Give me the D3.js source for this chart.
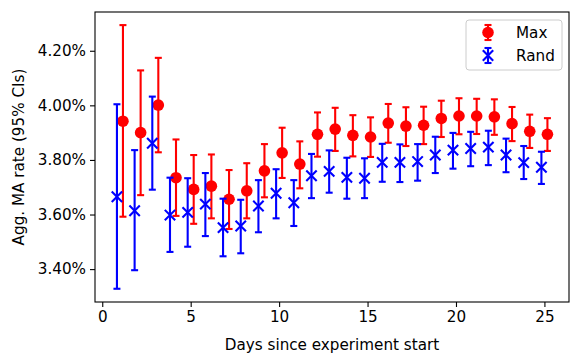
<!DOCTYPE html>
<html>
<head>
<meta charset="utf-8">
<script src="https://cdn.jsdelivr.net/npm/d3@7"></script>
<style>
  body { margin: 0; background: #fff; }
  svg { display: block; font-family: "DejaVu Sans", sans-serif; }
</style>
</head>
<body>
<svg id="chart" width="582" height="364"></svg>
<script>
// days since experiment start
let days = d3.range(1, 26);

// Max series: mean and 95% CI bounds (percent)
let maxMean = [3.942, 3.900, 4.001, 3.735, 3.692, 3.704, 3.656, 3.687, 3.760, 3.826,
               3.785, 3.894, 3.913, 3.890, 3.884, 3.935, 3.924, 3.927, 3.952, 3.961,
               3.961, 3.958, 3.933, 3.905, 3.894];
let maxLow  = [3.592, 3.671, 3.828, 3.595, 3.566, 3.586, 3.547, 3.586, 3.663, 3.734,
               3.696, 3.812, 3.833, 3.813, 3.811, 3.863, 3.851, 3.858, 3.884, 3.894,
               3.895, 3.892, 3.869, 3.844, 3.833];
let maxHigh = [4.294, 4.128, 4.174, 3.875, 3.818, 3.820, 3.763, 3.788, 3.858, 3.918,
               3.868, 3.974, 3.991, 3.964, 3.956, 4.005, 3.993, 3.995, 4.017, 4.026,
               4.024, 4.022, 3.994, 3.966, 3.953];

// Rand series
let randMean = [3.665, 3.614, 3.861, 3.598, 3.608, 3.638, 3.552, 3.558, 3.631, 3.678,
                3.643, 3.742, 3.758, 3.736, 3.733, 3.791, 3.791, 3.794, 3.818, 3.836,
                3.842, 3.847, 3.818, 3.790, 3.773];
let randLow  = [3.328, 3.396, 3.691, 3.463, 3.482, 3.521, 3.447, 3.458, 3.535, 3.586,
                3.558, 3.660, 3.680, 3.658, 3.660, 3.720, 3.719, 3.724, 3.752, 3.768,
                3.777, 3.781, 3.755, 3.730, 3.712];
let randHigh = [4.004, 3.836, 4.032, 3.735, 3.733, 3.752, 3.658, 3.654, 3.726, 3.766,
                3.726, 3.822, 3.835, 3.808, 3.806, 3.859, 3.857, 3.858, 3.885, 3.899,
                3.903, 3.907, 3.878, 3.851, 3.830];

let xTicks = [0, 5, 10, 15, 20, 25];
let yTicks = [3.4, 3.6, 3.8, 4.0, 4.2];

let fontSize = "15.2px";

let svg = d3.select("#chart");
let margin = { left: 95, right: 13, top: 12, bottom: 62 };
let width = 582 - margin.left - margin.right,
    height = 364 - margin.top - margin.bottom;

let g = svg.append("g").attr("transform", "translate(" + margin.left + "," + margin.top + ")");

let x = d3.scaleLinear().domain([-0.41, 26.39]).range([0, width]);
let y = d3.scaleLinear().domain([3.2795, 4.342]).range([height, 0]);

let shift = 0.17; // side-by-side offset of the two series

function drawSeries(mean, low, high, color, dx, marker) {
    let s = g.append("g");
    let data = days.map((d, i) => ({ day: d + dx, m: mean[i], lo: low[i], hi: high[i] }));
    let cap = 3.5;
    let grp = s.selectAll("g").data(data).enter().append("g");
    grp.append("line")
        .attr("x1", d => x(d.day)).attr("x2", d => x(d.day))
        .attr("y1", d => y(d.lo)).attr("y2", d => y(d.hi))
        .attr("stroke", color).attr("stroke-width", 2.1);
    grp.append("line")
        .attr("x1", d => x(d.day) - cap).attr("x2", d => x(d.day) + cap)
        .attr("y1", d => y(d.lo)).attr("y2", d => y(d.lo))
        .attr("stroke", color).attr("stroke-width", 2.1);
    grp.append("line")
        .attr("x1", d => x(d.day) - cap).attr("x2", d => x(d.day) + cap)
        .attr("y1", d => y(d.hi)).attr("y2", d => y(d.hi))
        .attr("stroke", color).attr("stroke-width", 2.1);
    grp.each(function (d) {
        drawMarker(d3.select(this), x(d.day), y(d.m), color, marker);
    });
}

function drawMarker(sel, cx, cy, color, marker) {
    if (marker === "o") {
        sel.append("circle").attr("cx", cx).attr("cy", cy).attr("r", 5.8).attr("fill", color);
    } else {
        let r = 5.2;
        sel.append("path")
            .attr("d", `M${cx - r},${cy - r}L${cx + r},${cy + r}M${cx - r},${cy + r}L${cx + r},${cy - r}`)
            .attr("stroke", color).attr("stroke-width", 2.1).attr("fill", "none");
    }
}

drawSeries(maxMean, maxLow, maxHigh, "#ff0000", shift, "o");
drawSeries(randMean, randLow, randHigh, "#0000ff", -shift, "x");

// axes
let xAxis = g.append("g").attr("transform", "translate(0," + height + ")")
    .call(d3.axisBottom(x).tickValues(xTicks).tickSize(5).tickPadding(4));
let yAxis = g.append("g")
    .call(d3.axisLeft(y).tickValues(yTicks).tickSize(5).tickPadding(4)
        .tickFormat(d => d3.format(".2f")(d) + "%"));
[xAxis, yAxis].forEach(a => {
    a.select(".domain").remove();
    a.selectAll(".tick line").attr("stroke", "#000").attr("stroke-width", 1.1);
    a.selectAll(".tick text").attr("fill", "#000").style("font-size", fontSize)
        .style("font-family", "DejaVu Sans");
});

// frame
g.append("rect").attr("width", width).attr("height", height)
    .attr("fill", "none").attr("stroke", "#000").attr("stroke-width", 1.1);

// labels
svg.append("text")
    .attr("x", margin.left + width / 2).attr("y", 350)
    .attr("text-anchor", "middle").style("font-size", fontSize)
    .text("Days since experiment start");
svg.append("text")
    .attr("transform", "translate(24," + (margin.top + height / 2) + ") rotate(-90)")
    .attr("text-anchor", "middle").style("font-size", fontSize)
    .text("Agg. MA rate (95% CIs)");

// legend
let legend = svg.append("g").attr("transform", "translate(466,20)");
legend.append("rect").attr("width", 96).attr("height", 50).attr("rx", 3)
    .attr("fill", "#fff").attr("fill-opacity", 0.8)
    .attr("stroke", "#cccccc").attr("stroke-width", 1);
let entries = [
    { name: "Max", color: "#ff0000", marker: "o" },
    { name: "Rand", color: "#0000ff", marker: "x" }
];
entries.forEach((e, i) => {
    let ly = 12.5 + i * 23;
    let lg = legend.append("g");
    lg.append("line").attr("x1", 22).attr("x2", 22).attr("y1", ly - 7.5).attr("y2", ly + 7.5)
        .attr("stroke", e.color).attr("stroke-width", 2.1);
    lg.append("line").attr("x1", 18.5).attr("x2", 25.5).attr("y1", ly - 7.5).attr("y2", ly - 7.5)
        .attr("stroke", e.color).attr("stroke-width", 2.1);
    lg.append("line").attr("x1", 18.5).attr("x2", 25.5).attr("y1", ly + 7.5).attr("y2", ly + 7.5)
        .attr("stroke", e.color).attr("stroke-width", 2.1);
    drawMarker(lg, 22, ly, e.color, e.marker);
    lg.append("text").attr("x", 50).attr("y", ly + 5.5).style("font-size", fontSize).text(e.name);
});
</script>
</body>
</html>
